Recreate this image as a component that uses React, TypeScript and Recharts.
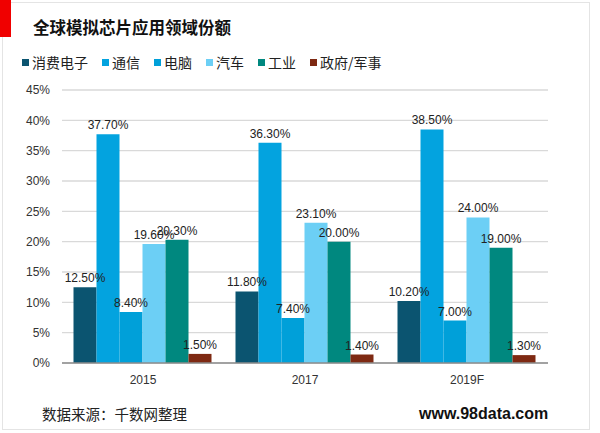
import { BarChart, Bar, XAxis, YAxis, CartesianGrid, LabelList } from "recharts"

const years = ["2015", "2017", "2019F"]
const consumer = [12.5, 11.8, 10.2]
const telecom = [37.7, 36.3, 38.5]
const computer = [8.4, 7.4, 7.0]
const auto = [19.6, 23.1, 24.0]
const industrial = [20.3, 20.0, 19.0]
const government = [1.5, 1.4, 1.3]
const yTicks = [0, 5, 10, 15, 20, 25, 30, 35, 40, 45]

const series = [
  { key: "consumer", name: "消费电子", color: "#0b5470" },
  { key: "telecom", name: "通信", color: "#03a3df" },
  { key: "computer", name: "电脑", color: "#00a0d9" },
  { key: "auto", name: "汽车", color: "#6ccff5" },
  { key: "industrial", name: "工业", color: "#00887f" },
  { key: "government", name: "政府/军事", color: "#7e2912" },
]

const data = years.map((y, i) => ({
  year: y,
  consumer: consumer[i],
  telecom: telecom[i],
  computer: computer[i],
  auto: auto[i],
  industrial: industrial[i],
  government: government[i],
}))

const font = "Arial, 'Liberation Sans', sans-serif"
const cjk = "'Noto Sans CJK SC', 'Microsoft YaHei', sans-serif"

export default function App() {
  return (
    <div style={{ position: "fixed", left: 0, top: 0, width: 600, height: 433, background: "#fff", overflow: "hidden" }}>
      {/* frame */}
      <div style={{ position: "absolute", left: 2, top: 2, width: 588, height: 428, border: "1px solid #e4e4e4", boxSizing: "border-box" }} />
      <div style={{ position: "absolute", left: 0, top: 0, width: 11, height: 37, background: "#f00000" }} />
      <div style={{ position: "absolute", left: 33, top: 16, fontFamily: cjk, fontWeight: 700, fontSize: 16.5, color: "#111", lineHeight: "22px" }}>
        全球模拟芯片应用领域份额
      </div>

      {/* legend */}
      <div style={{ position: "absolute", left: 22, top: 52, display: "flex", alignItems: "center", fontFamily: cjk, fontSize: 14, color: "#222", lineHeight: "20px" }}>
        {series.map((s) => (
          <div key={s.key} style={{ display: "flex", alignItems: "center", marginRight: 14 }}>
            <span style={{ display: "inline-block", width: 7, height: 7, background: s.color, marginRight: 3 }} />
            <span>{s.name}</span>
          </div>
        ))}
      </div>

      <div style={{ position: "absolute", left: 0, top: 0 }}>
        <BarChart
          width={600}
          height={433}
          data={data}
          margin={{ top: 90, right: 52, bottom: 40, left: 0 }}
          barGap={0}
          barCategoryGap={11.5}
        >
          <CartesianGrid vertical={false} stroke="#d9d9d9" strokeWidth={1.3} />
          <XAxis
            dataKey="year"
            axisLine={{ stroke: "#8c8c8c", strokeWidth: 1.3 }}
            tickLine={false}
            height={30}
            tick={{ fontSize: 12, fill: "#333", fontFamily: font }}
            tickMargin={6}
          />
          <YAxis
            width={62}
            domain={[0, 45]}
            ticks={yTicks}
            axisLine={false}
            tickLine={false}
            tickMargin={6}
            tick={{ fontSize: 12, fill: "#333", fontFamily: font }}
            tickFormatter={(v) => `${v}%`}
          />
          {series.map((s) => (
            <Bar key={s.key} dataKey={s.key} name={s.name} fill={s.color} isAnimationActive={false}>
              <LabelList
                dataKey={s.key}
                position="top"
                offset={5}
                formatter={(v: number) => `${v.toFixed(2)}%`}
                style={{ fontSize: 12, fill: "#222", fontFamily: font }}
              />
            </Bar>
          ))}
        </BarChart>
      </div>

      {/* footer */}
      <div style={{ position: "absolute", left: 42, top: 404, fontFamily: cjk, fontSize: 14.5, color: "#222", lineHeight: "20px" }}>
        数据来源：千数网整理
      </div>
      <div style={{ position: "absolute", left: 419, top: 404, fontFamily: font, fontWeight: 700, fontSize: 16, color: "#111", lineHeight: "20px" }}>
        www.98data.com
      </div>
    </div>
  )
}
